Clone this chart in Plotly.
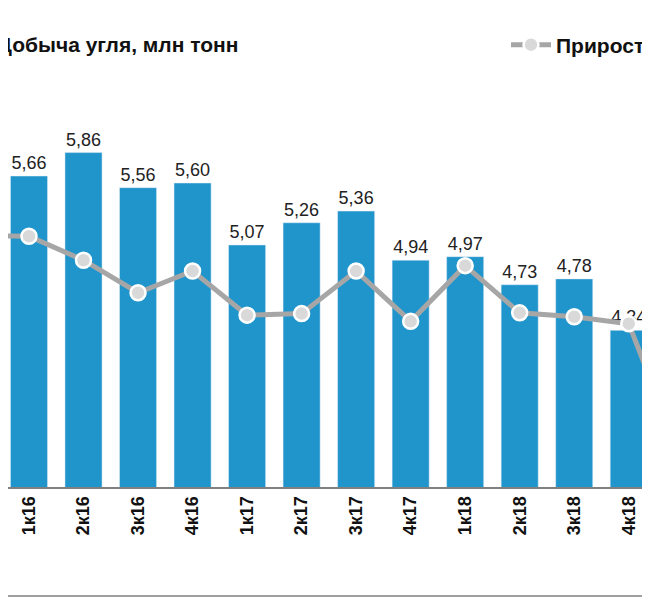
import plotly.graph_objects as go

categories = ["1к16","2к16","3к16","4к16","1к17","2к17","3к17","4к17","1к18","2к18","3к18","4к18"]
production = [5.66,5.86,5.56,5.60,5.07,5.26,5.36,4.94,4.97,4.73,4.78,4.34]
# growth line (includes neighbouring points outside the visible window)
growth_x = [-1,0,1,2,3,4,5,6,7,8,9,10,11,12]
growth = [-7.5,-7.6,-10.7,-14.9,-12.1,-17.8,-17.6,-12.1,-18.6,-11.4,-17.5,-18.0,-18.9,-37.0]

W, H, T, B = 642, 592, 92, 113
plot_h = H - T - B

def py(screen_y):
    return (H - B - (screen_y - 8)) / plot_h

fig = go.Figure()
fig.add_bar(x=list(range(len(categories))), y=production, marker_color="#1F95CC", width=0.68,
            text=[f"{v:.2f}".replace(".", ",") for v in production], textposition="outside",
            textfont=dict(size=18, color="#222"), cliponaxis=False, showlegend=False)
fig.add_scatter(x=growth_x, y=growth, yaxis="y2", mode="lines+markers", name="Прирост",
                line=dict(color="#A6A6A6", width=5),
                marker=dict(size=15, color="#D9D9D9", line=dict(color="white", width=2.5)))
fig.update_layout(
    width=W, height=H, margin=dict(l=0, r=0, t=T, b=B),
    plot_bgcolor="white", paper_bgcolor="white",
    font=dict(family="Liberation Sans, Arial", color="#111"),
    xaxis=dict(range=[-0.385, 11.39], tickvals=list(range(len(categories))), ticktext=categories,
               tickangle=-90, tickfont=dict(size=18, family="Liberation Sans, Arial", weight="bold", color="#111"),
               showline=True, linecolor="#808080", linewidth=2, ticks="", showgrid=False),
    yaxis=dict(range=[3.0, 6.31], visible=False, showgrid=False),
    yaxis2=dict(range=[-40, 10], overlaying="y", visible=False, showgrid=False),
    legend=dict(x=1.0, xanchor="right", y=py(45), yanchor="middle",
                font=dict(size=21, weight="bold", color="#111"), bgcolor="rgba(0,0,0,0)", itemwidth=40),
    annotations=[dict(text="<b>Добыча угля, млн тонн</b>", x=-0.02, y=py(45), xref="paper", yref="paper",
                      showarrow=False, xanchor="left", yanchor="middle", font=dict(size=21, color="#111"))],
    shapes=[dict(type="line", xref="paper", yref="paper", x0=0, x1=1, y0=py(4), y1=py(4),
                 line=dict(color="#A0A0A0", width=2)),
            dict(type="line", xref="paper", yref="paper", x0=0, x1=1, y0=py(596), y1=py(596),
                 line=dict(color="#A0A0A0", width=2))],
)
fig.write_html("out.html")
